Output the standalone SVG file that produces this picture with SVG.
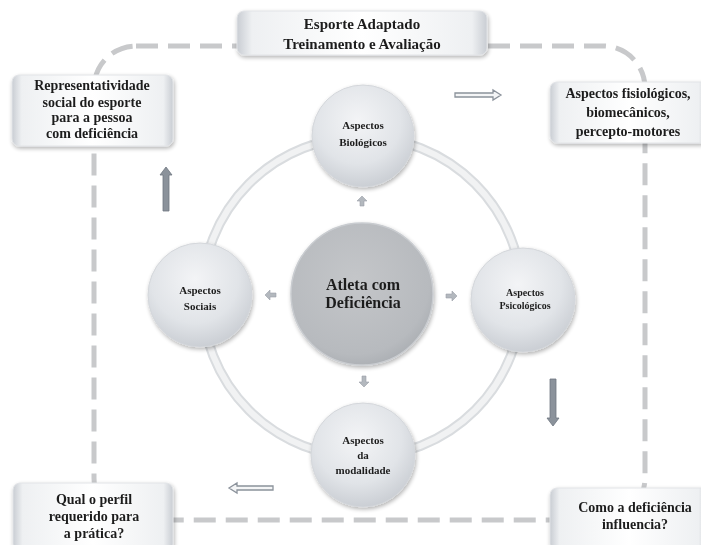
<svg xmlns="http://www.w3.org/2000/svg" width="701" height="545" viewBox="0 0 701 545">
<defs>
<linearGradient id="boxH" x1="0" y1="0" x2="1" y2="0">
<stop offset="0" stop-color="#c9cdd3"/>
<stop offset="0.06" stop-color="#eef0f2"/>
<stop offset="0.5" stop-color="#ffffff"/>
<stop offset="0.94" stop-color="#eef0f2"/>
<stop offset="1" stop-color="#c9cdd3"/>
</linearGradient>
<radialGradient id="ball" cx="0.45" cy="0.35" r="0.7">
<stop offset="0" stop-color="#f3f4f6"/>
<stop offset="0.6" stop-color="#e1e4e8"/>
<stop offset="1" stop-color="#c6cad0"/>
</radialGradient>
<radialGradient id="ballC" cx="0.45" cy="0.4" r="0.7">
<stop offset="0" stop-color="#c4c6c9"/>
<stop offset="0.75" stop-color="#b7babe"/>
<stop offset="1" stop-color="#a2a6ab"/>
</radialGradient>
<filter id="sh" x="-20%" y="-20%" width="140%" height="140%">
<feGaussianBlur in="SourceAlpha" stdDeviation="2"/>
<feOffset dx="1" dy="2"/>
<feComponentTransfer><feFuncA type="linear" slope="0.3"/></feComponentTransfer>
<feMerge><feMergeNode/><feMergeNode in="SourceGraphic"/></feMerge>
</filter>
</defs>
<style>
.t{font-family:"Liberation Serif","DejaVu Serif",serif;font-weight:bold;fill:#1e1e1e;text-anchor:middle}
.box{fill:url(#boxH);stroke:#e2e4e7;stroke-width:1}
.ball{fill:url(#ball);stroke:#d4d7db;stroke-width:1}
.blk{fill:#8b929b;stroke:#6f7680;stroke-width:0.8}
.hol{fill:#f4f5f6;stroke:#8b929b;stroke-width:1.3}
.sm{fill:#b3b8be;stroke:#9aa0a7;stroke-width:0.6}
</style>
<rect width="701" height="545" fill="#ffffff"/>
<g id="frame">
<rect x="94" y="46" width="551" height="474" rx="42" fill="none" stroke="#c8c9cb" stroke-width="5" stroke-dasharray="22 10"/>
</g>
<g id="ring">
<circle cx="362" cy="297" r="160" fill="none" stroke="#d9dcdf" stroke-width="10"/>
<circle cx="362" cy="297" r="160" fill="none" stroke="#f1f2f3" stroke-width="6"/>
</g>
<g id="connectors">
<path class="sm" d="M362 196 l-5 5 h3 v5 h4 v-5 h3 z"/>
<path class="sm" d="M265 295 l5 -5 v3 h6 v4 h-6 v3 z"/>
<path class="sm" d="M457 296 l-5 -5 v3 h-6 v4 h6 v3 z"/>
<path class="sm" d="M364 387 l-5 -5 h3 v-6 h4 v6 h3 z"/>
<path class="blk" d="M166 167 l-6 8 h3 v36 h6 v-36 h3 z"/>
<path class="blk" d="M553 426 l-6 -8 h3 v-39 h6 v39 h3 z"/>
<path class="hol" d="M501 95 l-8 -5 v3 h-38 v4 h38 v3 z"/>
<path class="hol" d="M229 488 l8 -5 v3 h36 v4 h-36 v3 z"/>
</g>
<g id="top-box" filter="url(#sh)">
<rect class="box" x="237" y="11" width="250" height="44" rx="7"/>
<text class="t" x="362" y="29" font-size="15">Esporte Adaptado</text>
<text class="t" x="362" y="49" font-size="15">Treinamento e Avaliação</text>
</g>
<g id="box-representatividade" filter="url(#sh)">
<rect class="box" x="12" y="75" width="161" height="71" rx="7"/>
<text class="t" x="92" y="90" font-size="14">Representatividade</text>
<text class="t" x="92" y="107" font-size="14">social do esporte</text>
<text class="t" x="92" y="122" font-size="14">para a pessoa</text>
<text class="t" x="92" y="138" font-size="14">com deficiência</text>
</g>
<g id="box-fisiologicos" filter="url(#sh)">
<rect class="box" x="550" y="82" width="158" height="61" rx="7"/>
<text class="t" x="628" y="98" font-size="14">Aspectos fisiológicos,</text>
<text class="t" x="628" y="117" font-size="14">biomecânicos,</text>
<text class="t" x="628" y="136" font-size="14">percepto-motores</text>
</g>
<g id="box-perfil" filter="url(#sh)">
<rect class="box" x="13" y="483" width="160" height="68" rx="7"/>
<text class="t" x="94" y="504" font-size="14">Qual o perfil</text>
<text class="t" x="94" y="521" font-size="14">requerido para</text>
<text class="t" x="94" y="538" font-size="14">a prática?</text>
</g>
<g id="box-influencia" filter="url(#sh)">
<rect class="box" x="550" y="488" width="158" height="63" rx="7"/>
<text class="t" x="635" y="512" font-size="14">Como a deficiência</text>
<text class="t" x="635" y="529" font-size="14">influencia?</text>
</g>
<g id="node-biologicos" filter="url(#sh)">
<circle class="ball" cx="363" cy="136" r="51"/>
<text class="t" x="363" y="129" font-size="11">Aspectos</text>
<text class="t" x="363" y="146" font-size="11">Biológicos</text>
</g>
<g id="node-sociais" filter="url(#sh)">
<circle class="ball" cx="200" cy="295" r="52"/>
<text class="t" x="200" y="294" font-size="11">Aspectos</text>
<text class="t" x="200" y="310" font-size="11">Sociais</text>
</g>
<g id="node-psicologicos" filter="url(#sh)">
<circle class="ball" cx="523" cy="300" r="52"/>
<text class="t" x="525" y="296" font-size="10">Aspectos</text>
<text class="t" x="525" y="309" font-size="10">Psicológicos</text>
</g>
<g id="node-modalidade" filter="url(#sh)">
<circle class="ball" cx="363" cy="455" r="52"/>
<text class="t" x="363" y="444" font-size="11">Aspectos</text>
<text class="t" x="363" y="459" font-size="11">da</text>
<text class="t" x="363" y="474" font-size="11">modalidade</text>
</g>
<g id="node-atleta" filter="url(#sh)">
<circle cx="362" cy="294" r="71" fill="url(#ballC)" stroke="#c9ccd0" stroke-width="1.5"/>
<text class="t" x="363" y="290" font-size="16">Atleta com</text>
<text class="t" x="363" y="308" font-size="16">Deficiência</text>
</g>
</svg>
